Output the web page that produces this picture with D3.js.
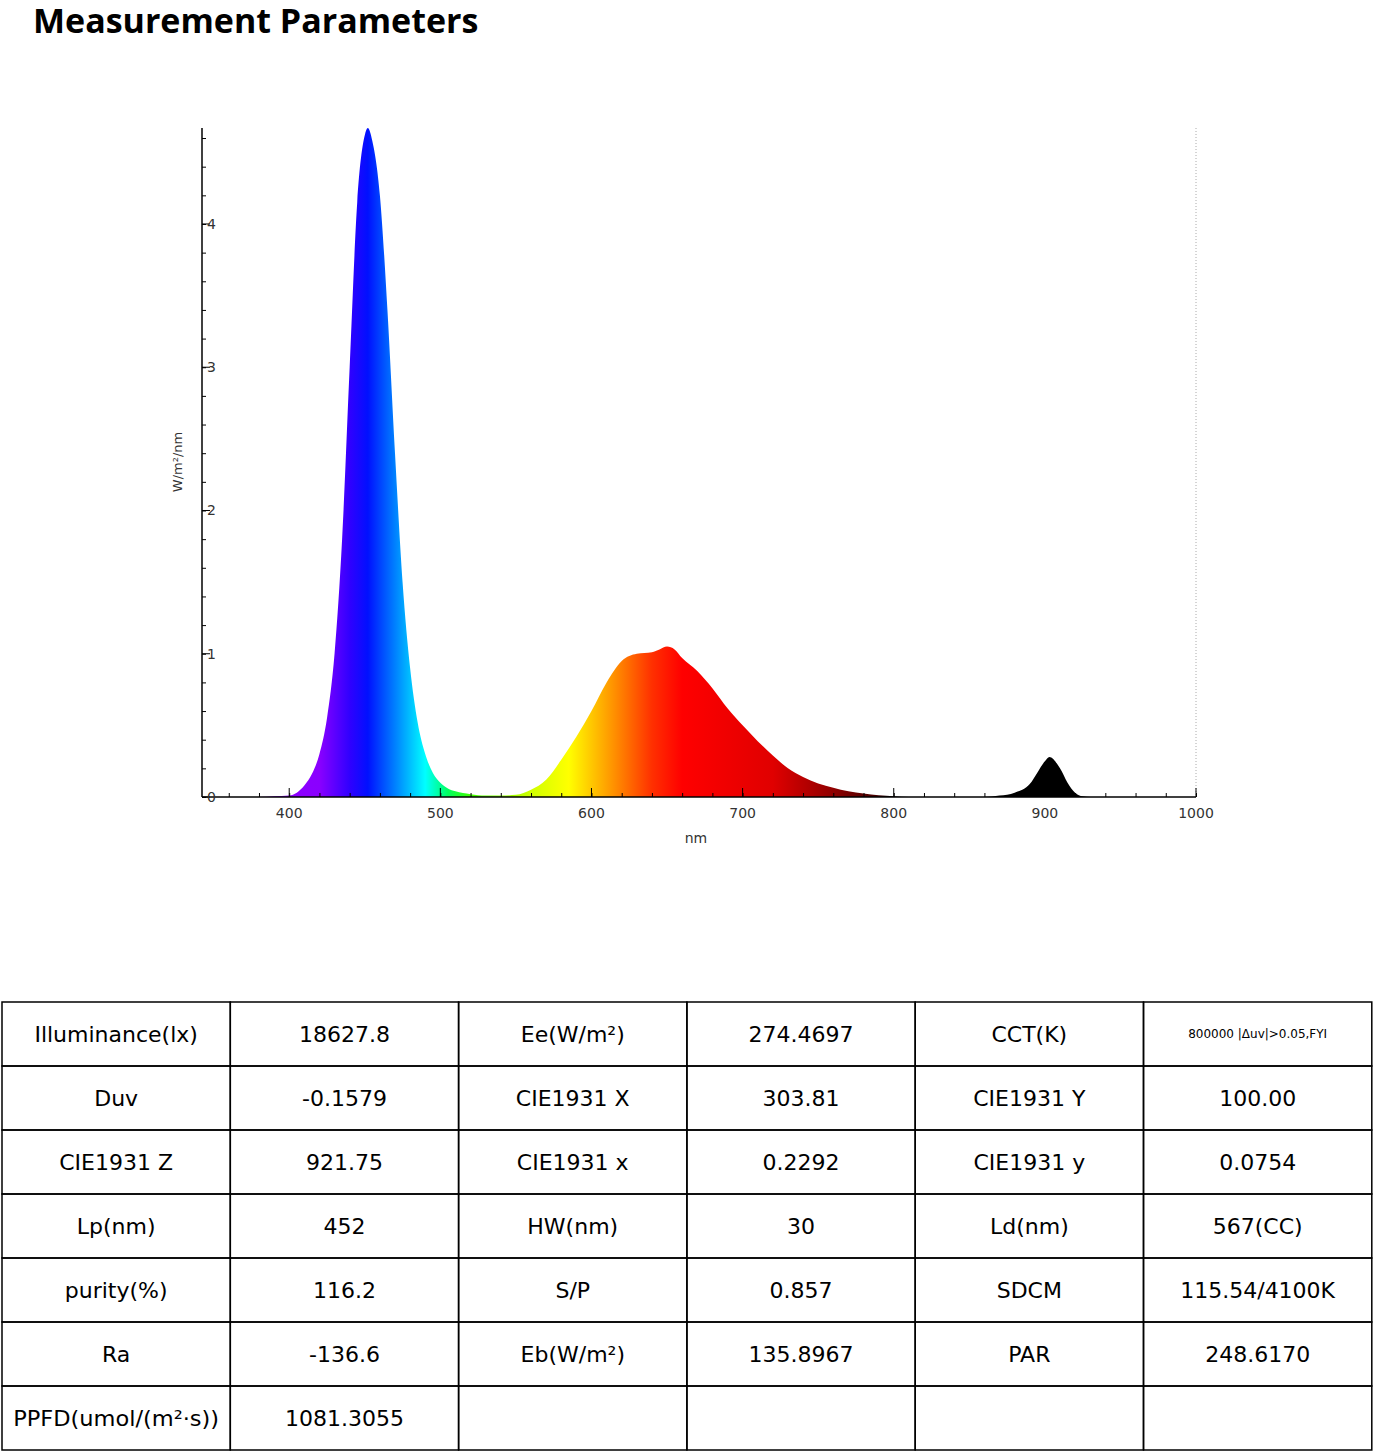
<!DOCTYPE html>
<html><head><meta charset="utf-8">
<script src="https://cdn.jsdelivr.net/npm/d3@7"></script>
<style>
body { margin: 0; background: #fff; }
text { font-family: "DejaVu Sans", Verdana, sans-serif; }
</style></head>
<body><svg id="chart" width="1375" height="1453"></svg>
<script>
var wavelengths = [342, 380, 390, 400, 405, 410, 415, 420, 425, 430, 435, 440, 445, 450, 452, 455, 460, 465, 470, 475, 480, 485, 490, 495, 500, 505, 510, 520, 530, 540, 550, 560, 570, 580, 590, 600, 610, 620, 630, 640, 645, 650, 655, 660, 670, 680, 690, 700, 710, 720, 730, 740, 750, 760, 770, 780, 790, 800, 810, 860, 870, 880, 890, 895, 900, 903, 910, 915, 920, 925, 930, 1000];
var irradiance = [0, 0, 0.005, 0.01, 0.03, 0.08, 0.16, 0.3, 0.55, 1.0, 1.8, 3.0, 4.15, 4.62, 4.67, 4.58, 4.2, 3.4, 2.4, 1.5, 0.9, 0.52, 0.3, 0.17, 0.1, 0.06, 0.04, 0.02, 0.01, 0.01, 0.015, 0.05, 0.12, 0.26, 0.42, 0.6, 0.8, 0.95, 1.0, 1.01, 1.03, 1.05, 1.03, 0.97, 0.88, 0.76, 0.62, 0.5, 0.39, 0.29, 0.2, 0.14, 0.095, 0.065, 0.04, 0.025, 0.012, 0.005, 0, 0, 0.01, 0.03, 0.09, 0.17, 0.25, 0.28, 0.2, 0.1, 0.03, 0.005, 0, 0];
var colorStops = [[380, '#9000ff'], [420, '#8a00ff'], [440, '#3000ff'], [452, '#0010ff'], [470, '#0080ff'], [490, '#00ffff'], [505, '#00ff60'], [520, '#40ff00'], [560, '#d0ff00'], [585, '#ffff00'], [615, '#ff9000'], [640, '#ff3000'], [660, '#ff0000'], [720, '#e00000'], [760, '#900000'], [790, '#400000'], [800, '#000000']];
var yTicks = [0, 1, 2, 3, 4];
var xTicks = [400, 500, 600, 700, 800, 900, 1000];
var tableRows = [
    ['Illuminance(lx)', '18627.8', 'Ee(W/m²)', '274.4697', 'CCT(K)', '800000 |Δuv|>0.05,FYI'],
    ['Duv', '-0.1579', 'CIE1931 X', '303.81', 'CIE1931 Y', '100.00'],
    ['CIE1931 Z', '921.75', 'CIE1931 x', '0.2292', 'CIE1931 y', '0.0754'],
    ['Lp(nm)', '452', 'HW(nm)', '30', 'Ld(nm)', '567(CC)'],
    ['purity(%)', '116.2', 'S/P', '0.857', 'SDCM', '115.54/4100K'],
    ['Ra', '-136.6', 'Eb(W/m²)', '135.8967', 'PAR', '248.6170'],
    ['PPFD(umol/(m²·s))', '1081.3055', '', '', '', '']
];

var svg = d3.select('#chart');

svg.append('text').attr('x', 33).attr('y', 33)
    .style('font-size', '34px').style('font-weight', 'bold')
    .style('font-family', '"Open Sans", sans-serif')
    .text('Measurement Parameters');

var xScale = d3.scaleLinear().domain([342.3, 1000]).range([202, 1196]);
var yScale = d3.scaleLinear().domain([0, 4.67]).range([797, 128]);

var grad = svg.append('defs').append('linearGradient')
    .attr('id', 'spec').attr('gradientUnits', 'userSpaceOnUse')
    .attr('x1', xScale(380)).attr('x2', xScale(800)).attr('y1', 0).attr('y2', 0);
grad.selectAll('stop').data(colorStops).enter().append('stop')
    .attr('offset', function (d) { return (d[0] - 380) / 420; })
    .attr('stop-color', function (d) { return d[1]; });

var points = wavelengths.map(function (w, i) { return [w, irradiance[i]]; });
var area = d3.area().curve(d3.curveMonotoneX)
    .x(function (d) { return xScale(d[0]); })
    .y0(yScale(0))
    .y1(function (d) { return yScale(d[1]); });
svg.append('path').datum(points).attr('d', area).attr('fill', 'url(#spec)');

// dotted line at right edge
svg.append('line').attr('x1', xScale(1000)).attr('x2', xScale(1000))
    .attr('y1', 128).attr('y2', 797)
    .attr('stroke', '#aaa').attr('stroke-dasharray', '1,2');

var xAxis = svg.append('g').attr('transform', 'translate(0,' + yScale(0) + ')');
xAxis.call(d3.axisBottom(xScale).tickValues(d3.range(360, 1001, 20)).tickSize(-4).tickFormat(''));
xAxis.call(function (g) { g.select('.domain').remove(); });
xAxis.append('line').attr('x1', 202).attr('x2', 1196).attr('stroke', '#000').attr('stroke-width', 1.5);
xAxis.selectAll('.major').data(xTicks).enter().append('line')
    .attr('x1', function (d) { return xScale(d); }).attr('x2', function (d) { return xScale(d); })
    .attr('y1', 0).attr('y2', -9).attr('stroke', '#000');
xAxis.selectAll('.lbl').data(xTicks).enter().append('text')
    .attr('x', function (d) { return xScale(d); }).attr('y', 21)
    .attr('text-anchor', 'middle').style('font-size', '14px').attr('fill', '#333')
    .text(function (d) { return d; });

var yAxis = svg.append('g').attr('transform', 'translate(202,0)');
yAxis.call(d3.axisLeft(yScale).tickValues(d3.range(0, 4.61, 0.2)).tickSize(-4).tickFormat(''));
yAxis.select('.domain').remove();
yAxis.append('line').attr('y1', 128).attr('y2', 797).attr('stroke', '#000').attr('stroke-width', 1.5);
yAxis.selectAll('.major').data(yTicks).enter().append('line')
    .attr('y1', function (d) { return yScale(d); }).attr('y2', function (d) { return yScale(d); })
    .attr('x1', 0).attr('x2', 8).attr('stroke', '#000');
yAxis.selectAll('.lbl').data(yTicks).enter().append('text')
    .attr('x', 14).attr('y', function (d) { return yScale(d) + 5; })
    .style('font-size', '14px').attr('fill', '#333')
    .text(function (d) { return d; });

svg.append('text').attr('x', 696).attr('y', 843).attr('text-anchor', 'middle')
    .style('font-size', '14px').attr('fill', '#333').text('nm');
svg.append('text').attr('transform', 'translate(182,462) rotate(-90)').attr('text-anchor', 'middle')
    .style('font-size', '13px').attr('fill', '#333').text('W/m²/nm');

// table
var tx = 2, ty = 1002, cw = 228.3, rh = 64;
var table = svg.append('g');
tableRows.forEach(function (row, r) {
    row.forEach(function (cell, c) {
        table.append('rect').attr('x', tx + c * cw).attr('y', ty + r * rh)
            .attr('width', cw).attr('height', rh)
            .attr('fill', 'none').attr('stroke', '#000').attr('stroke-width', 1.5);
        var small = r === 0 && c === 5;
        table.append('text').attr('x', tx + c * cw + cw / 2).attr('y', ty + r * rh + rh / 2 + (small ? 4 : 8))
            .attr('text-anchor', 'middle')
            .style('font-size', small ? '12px' : '22px')
            .attr('textLength', (!small && cell.length > 16) ? 206 : null)
            .attr('lengthAdjust', 'spacingAndGlyphs')
            .text(cell);
    });
});
</script></body></html>
